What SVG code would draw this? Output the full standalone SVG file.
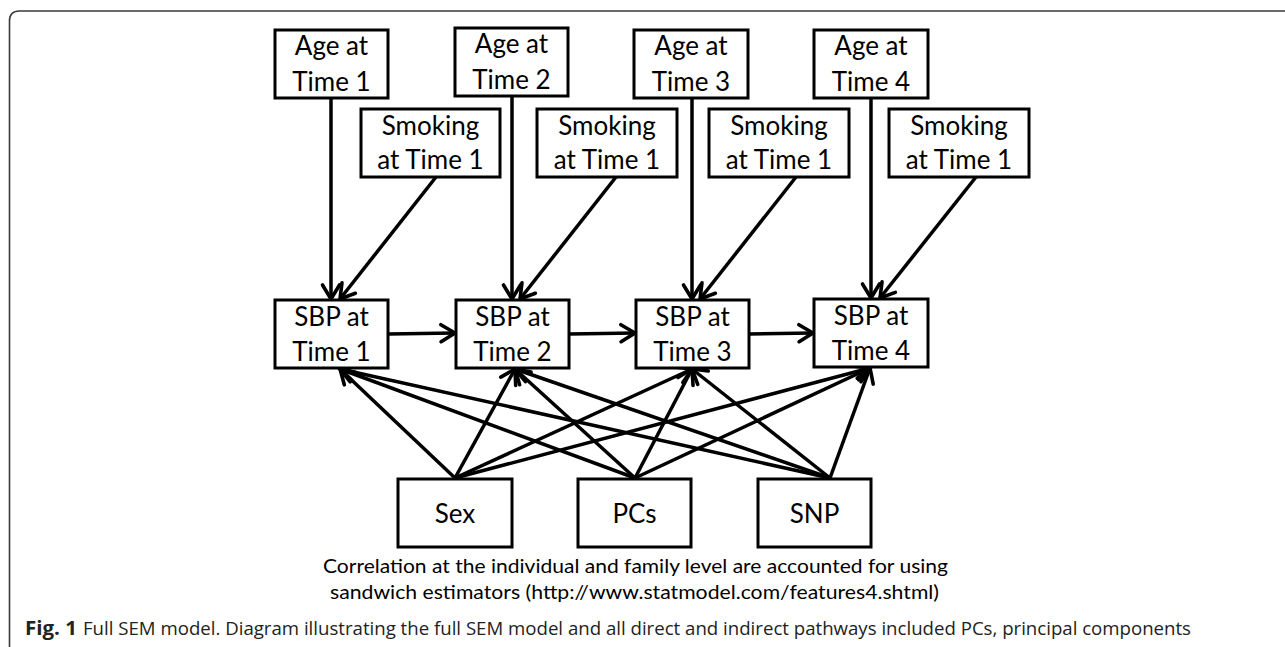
<svg xmlns="http://www.w3.org/2000/svg" width="1285" height="647" viewBox="0 0 1285 647">
<defs>
<style>
.box{fill:#fff;stroke:#000;stroke-width:3}
.lbl{font-family:Lato,"Liberation Sans",sans-serif;font-size:26px;fill:#000;text-anchor:middle}
.edge{stroke:#000;stroke-width:3.5;fill:none;marker-end:url(#arr)}
.note{font-family:Lato,"Liberation Sans",sans-serif;font-size:19px;fill:#000;text-anchor:middle}
.cap{font-family:"Open Sans","Noto Sans",sans-serif;font-size:19px;fill:#222}
</style>
<marker id="arr" markerUnits="userSpaceOnUse" markerWidth="22" markerHeight="22" viewBox="0 0 22 22" refX="17" refY="11" orient="auto">
<path d="M3,2.5 L17,11 L3,19.5" fill="none" stroke="#000" stroke-width="3.6" stroke-linecap="round" stroke-linejoin="miter"/>
</marker>
</defs>
<rect width="1285" height="647" fill="#fff"/>
<path d="M9.5,647 V21 Q9.5,11 19.5,11 H1285" fill="none" stroke="#3a3a3a" stroke-width="1.6"/>

<g id="connectors">
<line class="edge" x1="331" y1="98" x2="331" y2="299"/>
<line class="edge" x1="512" y1="96" x2="512" y2="299"/>
<line class="edge" x1="692" y1="98" x2="692" y2="299"/>
<line class="edge" x1="871" y1="98" x2="871" y2="298"/>
<line class="edge" x1="436" y1="177" x2="340" y2="299"/>
<line class="edge" x1="616" y1="177" x2="520" y2="299"/>
<line class="edge" x1="796" y1="177" x2="700" y2="299"/>
<line class="edge" x1="976" y1="177" x2="880" y2="298"/>
<line class="edge" x1="388" y1="334" x2="455" y2="333"/>
<line class="edge" x1="569" y1="334" x2="635" y2="333"/>
<line class="edge" x1="749" y1="334" x2="813" y2="333"/>
<line class="edge" x1="455" y1="478" x2="340" y2="369"/>
<line class="edge" x1="455" y1="478" x2="515" y2="369"/>
<line class="edge" x1="455" y1="478" x2="692" y2="369"/>
<line class="edge" x1="455" y1="478" x2="870" y2="368"/>
<line class="edge" x1="635" y1="478" x2="340" y2="369"/>
<line class="edge" x1="635" y1="478" x2="515" y2="369"/>
<line class="edge" x1="635" y1="478" x2="692" y2="369"/>
<line class="edge" x1="635" y1="478" x2="870" y2="368"/>
<line class="edge" x1="830" y1="478" x2="340" y2="369"/>
<line class="edge" x1="830" y1="478" x2="515" y2="369"/>
<line class="edge" x1="830" y1="478" x2="692" y2="369"/>
<line class="edge" x1="830" y1="478" x2="870" y2="368"/>
</g>

<g id="age1"><rect class="box" x="275" y="30" width="113" height="68"/><text class="lbl" x="331.5" y="55">Age at</text><text class="lbl" x="331.5" y="91">Time 1</text></g>
<g id="age2"><rect class="box" x="455" y="28" width="113" height="68"/><text class="lbl" x="511.5" y="53">Age at</text><text class="lbl" x="511.5" y="89">Time 2</text></g>
<g id="age3"><rect class="box" x="634" y="30" width="114" height="68"/><text class="lbl" x="691" y="55">Age at</text><text class="lbl" x="691" y="91">Time 3</text></g>
<g id="age4"><rect class="box" x="814" y="30" width="114" height="68"/><text class="lbl" x="871" y="55">Age at</text><text class="lbl" x="871" y="91">Time 4</text></g>

<g id="smoke1"><rect class="box" x="361" y="109" width="139" height="68"/><text class="lbl" x="430.5" y="135">Smoking</text><text class="lbl" x="430.5" y="169">at Time 1</text></g>
<g id="smoke2"><rect class="box" x="537" y="109" width="140" height="68"/><text class="lbl" x="607" y="135">Smoking</text><text class="lbl" x="607" y="169">at Time 1</text></g>
<g id="smoke3"><rect class="box" x="709" y="109" width="140" height="68"/><text class="lbl" x="779" y="135">Smoking</text><text class="lbl" x="779" y="169">at Time 1</text></g>
<g id="smoke4"><rect class="box" x="889" y="109" width="140" height="68"/><text class="lbl" x="959" y="135">Smoking</text><text class="lbl" x="959" y="169">at Time 1</text></g>

<g id="sbp1"><rect class="box" x="275" y="300" width="113" height="68"/><text class="lbl" x="331.5" y="326">SBP at</text><text class="lbl" x="331.5" y="361">Time 1</text></g>
<g id="sbp2"><rect class="box" x="456" y="300" width="113" height="68"/><text class="lbl" x="512.5" y="326">SBP at</text><text class="lbl" x="512.5" y="361">Time 2</text></g>
<g id="sbp3"><rect class="box" x="636" y="300" width="113" height="68"/><text class="lbl" x="692.5" y="326">SBP at</text><text class="lbl" x="692.5" y="361">Time 3</text></g>
<g id="sbp4"><rect class="box" x="814" y="299" width="114" height="68"/><text class="lbl" x="871" y="325">SBP at</text><text class="lbl" x="871" y="360">Time 4</text></g>

<g id="sex"><rect class="box" x="398" y="479" width="114" height="68"/><text class="lbl" x="455" y="523">Sex</text></g>
<g id="pcs"><rect class="box" x="578" y="479" width="113" height="68"/><text class="lbl" x="634.5" y="523">PCs</text></g>
<g id="snp"><rect class="box" x="758" y="479" width="113" height="68"/><text class="lbl" x="814.5" y="523">SNP</text></g>

<text class="note" x="635.5" y="573" textLength="625" lengthAdjust="spacingAndGlyphs">Correlation at the individual and family level are accounted for using</text>
<text class="note" x="634.5" y="599" textLength="609" lengthAdjust="spacingAndGlyphs">sandwich estimators (http://www.statmodel.com/features4.shtml)</text>

<text class="cap" x="25" y="635" font-weight="bold" textLength="52" lengthAdjust="spacingAndGlyphs">Fig. 1</text>
<text class="cap" x="83" y="635" textLength="1108" lengthAdjust="spacingAndGlyphs">Full SEM model. Diagram illustrating the full SEM model and all direct and indirect pathways included PCs, principal components</text>
</svg>
